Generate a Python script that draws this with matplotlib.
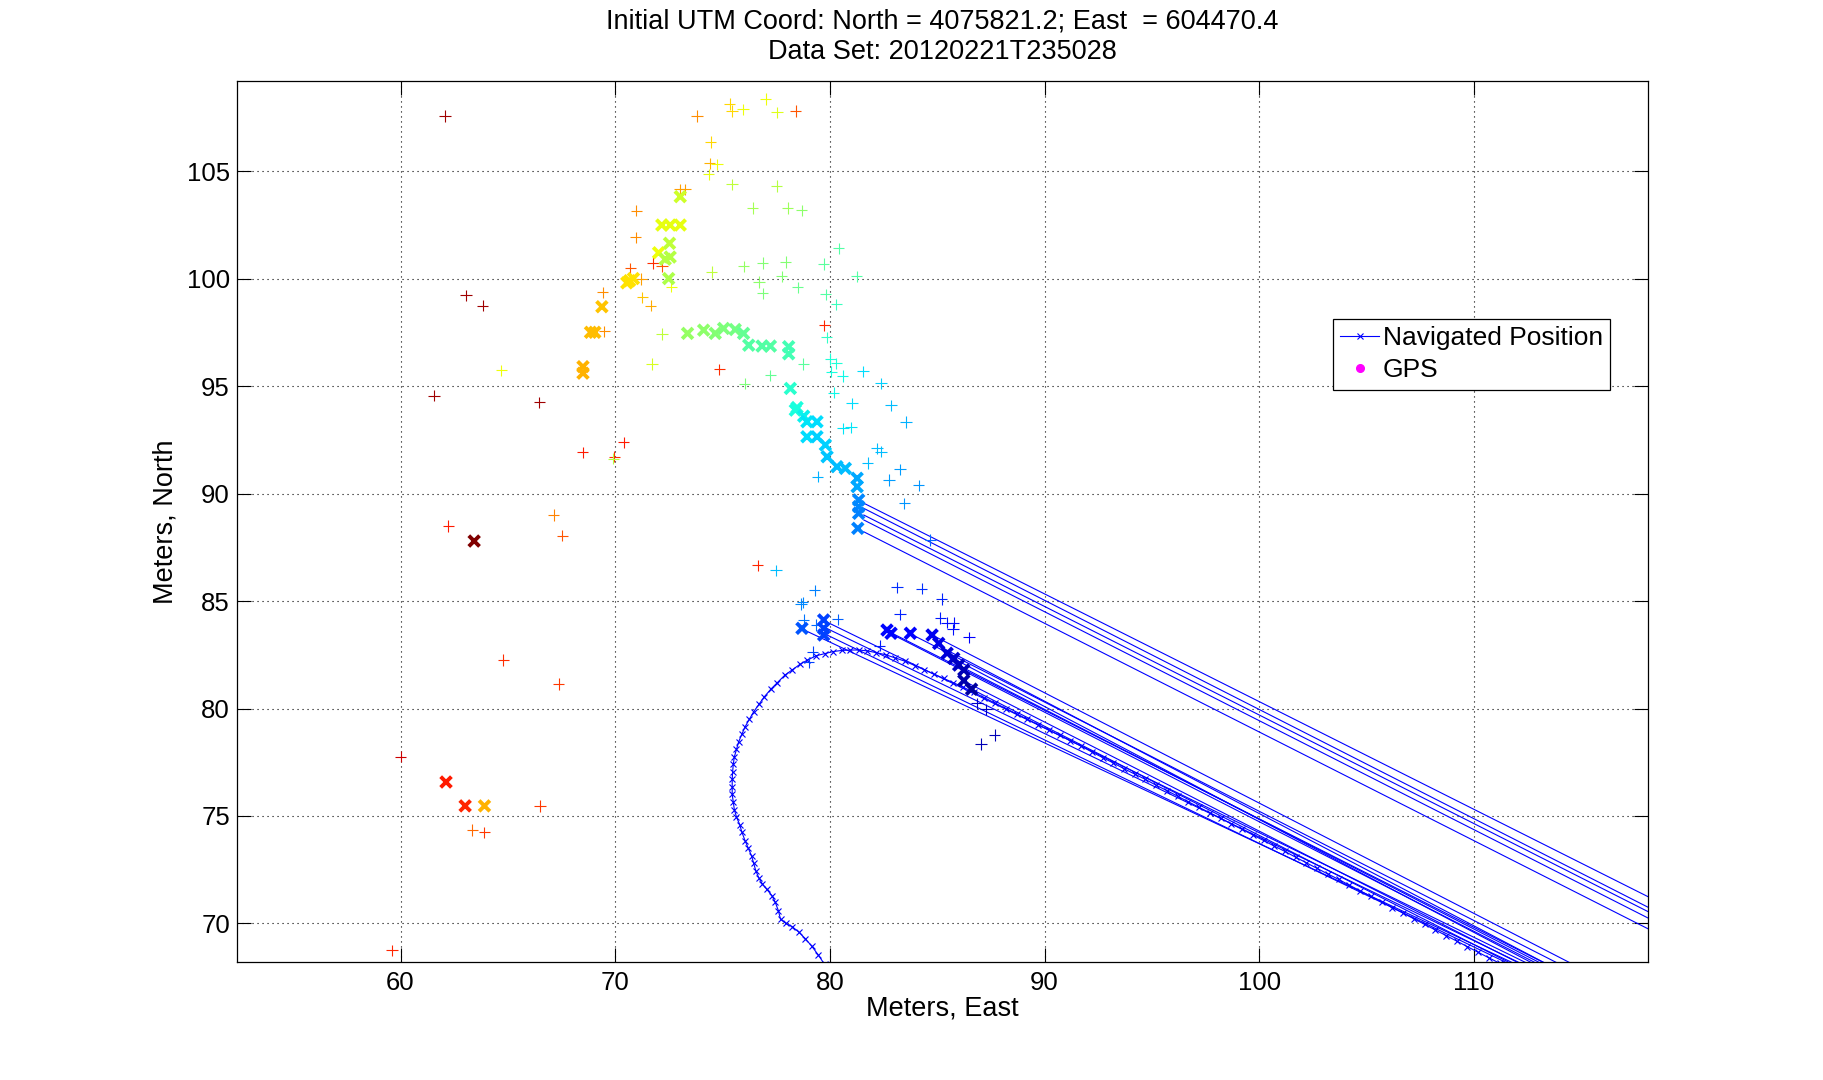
import numpy as np
import matplotlib.pyplot as plt

plt.rcParams['font.family'] = ['Liberation Sans', 'DejaVu Sans']

# GPS positions (+), metres east / north of the initial UTM coordinate, colour = time fraction
gps_e = [62.08, 63.06, 63.83, 61.56, 66.47, 64.70, 68.48, 70.39, 69.96, 69.92,
         74.85, 62.23, 67.13, 67.54, 64.79, 67.36, 60.01, 66.50, 63.35, 63.91,
         59.60, 73.81, 75.33, 75.44, 75.95, 77.01, 77.54, 78.41, 74.44, 74.40,
         74.74, 74.35, 75.44, 77.52, 73.00, 73.26, 70.98, 70.95, 76.40, 78.03,
         78.69, 80.41, 81.25, 70.71, 71.76, 72.19, 71.21, 71.27, 71.65, 69.42,
         69.49, 72.61, 74.49, 75.98, 76.87, 77.94, 79.71, 76.70, 77.75, 76.87,
         78.50, 79.80, 80.30, 79.74, 79.85, 72.19, 71.71, 76.03, 77.23, 78.76,
         80.02, 80.30, 80.07, 80.60, 81.55, 82.38, 80.18, 81.02, 82.85, 83.55,
         80.61, 80.99, 82.20, 82.38, 81.76, 82.76, 83.27, 84.14, 79.43, 83.47,
         84.68, 76.63, 77.49, 79.29, 78.73, 78.66, 78.78, 79.37, 80.36, 83.12,
         84.28, 85.20, 83.26, 85.15, 85.46, 85.77, 85.73, 86.47, 82.32, 79.20,
         79.01, 86.86, 87.28, 87.05, 87.68]
gps_n = [107.57, 99.22, 98.74, 94.55, 94.24, 95.73, 91.91, 92.38, 91.71, 91.62,
         95.78, 88.49, 89.00, 88.04, 82.26, 81.14, 77.76, 75.47, 74.35, 74.24,
         68.75, 107.56, 108.12, 107.79, 107.87, 108.35, 107.73, 107.79, 106.35, 105.36,
         105.31, 104.85, 104.38, 104.30, 104.15, 104.15, 103.16, 101.91, 103.28, 103.28,
         103.17, 101.40, 100.10, 100.47, 100.72, 100.58, 99.98, 99.13, 98.74, 99.36,
         97.54, 99.62, 100.30, 100.57, 100.72, 100.77, 100.67, 99.85, 100.10, 99.31,
         99.59, 99.26, 98.80, 97.82, 97.26, 97.42, 96.02, 95.11, 95.50, 96.02,
         96.26, 96.05, 95.67, 95.47, 95.68, 95.12, 94.69, 94.19, 94.10, 93.33,
         93.03, 93.08, 92.10, 91.95, 91.42, 90.63, 91.12, 90.38, 90.78, 89.54,
         87.84, 86.66, 86.43, 85.50, 84.94, 84.86, 84.12, 83.88, 84.15, 85.64,
         85.57, 85.09, 84.38, 84.22, 83.99, 83.99, 83.68, 83.31, 82.92, 82.64,
         82.15, 80.24, 79.96, 78.35, 78.77]
gps_t = [0.97, 0.97, 0.97, 0.97, 0.97, 0.64, 0.88, 0.88, 0.86, 0.57,
         0.86, 0.88, 0.77, 0.82, 0.86, 0.85, 0.93, 0.85, 0.80, 0.85,
         0.87, 0.76, 0.68, 0.68, 0.64, 0.64, 0.62, 0.82, 0.68, 0.72,
         0.64, 0.63, 0.58, 0.57, 0.74, 0.74, 0.76, 0.76, 0.55, 0.54,
         0.52, 0.45, 0.45, 0.82, 0.86, 0.82, 0.74, 0.70, 0.73, 0.76,
         0.76, 0.64, 0.58, 0.53, 0.51, 0.51, 0.46, 0.52, 0.51, 0.50,
         0.48, 0.45, 0.42, 0.87, 0.41, 0.58, 0.61, 0.50, 0.47, 0.46,
         0.39, 0.39, 0.38, 0.37, 0.34, 0.33, 0.37, 0.34, 0.31, 0.30,
         0.35, 0.35, 0.31, 0.31, 0.31, 0.28, 0.28, 0.27, 0.30, 0.27,
         0.23, 0.87, 0.31, 0.25, 0.26, 0.26, 0.24, 0.23, 0.22, 0.17,
         0.17, 0.16, 0.16, 0.15, 0.14, 0.14, 0.14, 0.12, 0.15, 0.19,
         0.19, 0.06, 0.06, 0.05, 0.05]

# accepted fixes (thick x)
fix_e = [63.43, 62.12, 63.01, 63.91, 68.50, 68.50, 68.85, 69.05, 69.38, 70.54,
         70.67, 70.85, 72.02, 72.17, 72.56, 73.03, 73.03, 72.53, 72.33, 72.56,
         72.49, 73.37, 74.12, 74.66, 75.05, 75.59, 75.98, 76.22, 76.84, 77.23,
         78.08, 78.08, 78.16, 78.47, 78.39, 78.78, 78.93, 79.40, 78.93, 79.40,
         79.79, 79.87, 80.33, 80.72, 81.27, 81.27, 81.34, 81.34, 81.34, 81.30,
         78.70, 79.71, 79.71, 79.71, 82.66, 82.85, 83.75, 84.76, 85.07, 85.46,
         85.77, 86.00, 86.24, 86.24, 86.60]
fix_n = [87.79, 76.58, 75.47, 75.47, 95.60, 95.90, 97.50, 97.50, 98.69, 99.80,
         99.90, 100.00, 101.20, 102.49, 102.49, 102.49, 103.81, 101.64, 100.90, 101.00,
         100.00, 97.45, 97.60, 97.45, 97.68, 97.63, 97.45, 96.90, 96.86, 96.86,
         96.83, 96.50, 94.89, 94.00, 93.88, 93.60, 93.34, 93.34, 92.64, 92.64,
         92.26, 91.71, 91.25, 91.17, 90.71, 90.32, 89.70, 89.39, 89.08, 88.38,
         83.73, 84.12, 83.73, 83.42, 83.65, 83.50, 83.50, 83.42, 83.03, 82.57,
         82.33, 82.02, 81.79, 81.30, 80.90]
fix_t = [1.00, 0.88, 0.87, 0.72, 0.72, 0.72, 0.71, 0.71, 0.70, 0.67,
         0.67, 0.67, 0.64, 0.63, 0.63, 0.63, 0.60, 0.58, 0.57, 0.57,
         0.56, 0.53, 0.52, 0.51, 0.50, 0.49, 0.47, 0.45, 0.45, 0.45,
         0.43, 0.43, 0.40, 0.38, 0.38, 0.36, 0.35, 0.34, 0.34, 0.33,
         0.33, 0.32, 0.31, 0.31, 0.29, 0.29, 0.26, 0.26, 0.25, 0.25,
         0.21, 0.19, 0.19, 0.19, 0.13, 0.13, 0.11, 0.10, 0.09, 0.08,
         0.07, 0.06, 0.05, 0.04, 0.03]

# navigated track
nav_e = [79.75, 79.45, 79.15, 78.85, 78.55, 78.25, 77.95, 77.70, 77.60, 77.45,
         77.30, 77.05, 76.85, 76.70, 76.55, 76.45, 76.35, 76.20, 76.05, 75.90,
         75.80, 75.65, 75.55, 75.50, 75.45, 75.45, 75.45, 75.47, 75.50, 75.55,
         75.65, 75.75, 75.90, 76.05, 76.25, 76.45, 76.70, 76.95, 77.25, 77.55,
         77.90, 78.25, 78.60, 78.95, 79.35, 79.75, 80.15, 80.55, 80.95, 81.35,
         81.75, 82.15, 82.60, 83.05, 83.50, 83.95, 84.40, 84.85, 85.30, 85.75,
         86.20, 86.70, 87.20, 87.70, 88.20, 88.70, 89.20, 89.70, 90.20, 90.70,
         91.20, 91.70, 92.20, 92.70, 93.20, 93.70, 94.20, 94.70, 95.20, 95.70,
         96.20, 96.70, 97.20, 97.70, 98.20, 98.70, 99.20, 99.70, 100.20, 100.70,
         101.20, 101.70, 102.20, 102.70, 103.20, 103.70, 104.20, 104.70, 105.20, 105.70,
         106.20, 106.70, 107.20, 107.70, 108.20, 108.70, 109.20, 109.70, 110.20, 110.70,
         111.20, 111.70]
nav_n = [68.10, 68.55, 68.95, 69.30, 69.60, 69.85, 70.00, 70.20, 70.60, 71.00,
         71.30, 71.60, 71.85, 72.10, 72.45, 72.80, 73.15, 73.50, 73.85, 74.25,
         74.60, 74.95, 75.30, 75.65, 76.00, 76.35, 76.70, 77.05, 77.40, 77.75,
         78.10, 78.45, 78.80, 79.15, 79.50, 79.85, 80.20, 80.55, 80.90, 81.20,
         81.55, 81.80, 82.05, 82.25, 82.45, 82.55, 82.65, 82.70, 82.72, 82.72,
         82.68, 82.60, 82.50, 82.35, 82.20, 82.00, 81.80, 81.60, 81.40, 81.20,
         81.00, 80.75, 80.50, 80.25, 80.00, 79.75, 79.50, 79.25, 79.00, 78.75,
         78.50, 78.25, 77.98, 77.72, 77.47, 77.20, 76.95, 76.70, 76.43, 76.18,
         75.92, 75.66, 75.40, 75.15, 74.90, 74.63, 74.38, 74.12, 73.86, 73.60,
         73.35, 73.08, 72.82, 72.56, 72.30, 72.05, 71.78, 71.52, 71.26, 71.00,
         70.74, 70.48, 70.22, 69.96, 69.70, 69.44, 69.18, 68.92, 68.66, 68.40,
         68.15, 67.90]

# jumps of the navigated track back to a fix and out of view
jump_e0 = [81.58, 81.58, 81.58, 81.58, 81.58,
           78.70, 79.70, 79.70, 79.70, 82.70, 82.80, 83.70, 84.80, 85.10, 85.80, 86.20, 86.20, 86.60]
jump_n0 = [89.55, 89.31, 89.00, 88.77, 88.22,
           83.70, 84.10, 83.80, 83.50, 83.60, 83.50, 83.50, 83.40, 82.90, 82.30, 81.90, 81.30, 80.90]
jump_e1 = [119.5, 119.5, 119.5, 119.5, 119.5,
           112.6, 113.2, 112.9, 112.3, 114.0, 113.6, 114.6, 115.2, 114.0, 113.4, 113.8, 112.8, 112.4]
jump_n1 = [70.55, 70.05, 69.85, 69.55, 69.05,
           67.80, 67.80, 67.80, 67.80, 67.80, 67.80, 67.80, 67.80, 67.80, 67.80, 67.80, 67.80, 67.80]

fig = plt.figure(figsize=(18.24, 10.8), dpi=100)
ax = fig.add_axes([0.1299, 0.1095, 0.7735, 0.8155])

ax.plot(nav_e, nav_n, '-x', color='b', lw=0.8, ms=4.5, mew=0.8,
        label='Navigated Position', zorder=2)
for i in range(len(jump_e0)):
    ax.plot([jump_e0[i], jump_e1[i]], [jump_n0[i], jump_n1[i]], '-',
            color='b', lw=0.8, zorder=2)
ax.plot([], [], '.', color='magenta', ms=11, label='GPS')

ax.scatter(gps_e, gps_n, c=gps_t, cmap='jet', vmin=0, vmax=1,
           marker='+', s=68, linewidths=0.8, zorder=3)
ax.scatter(fix_e, fix_n, c=fix_t, cmap='jet', vmin=0, vmax=1,
           marker='x', s=60, linewidths=2.8, zorder=4)

ax.set_xlim(52.38, 118.1)
ax.set_ylim(68.22, 109.19)
ax.set_xticks(np.arange(60, 111, 10))
ax.set_yticks(np.arange(70, 106, 5))
ax.grid(True, color='black', linestyle=(0, (1, 3.5)), linewidth=0.8)
ax.tick_params(direction='in', length=10, width=0.8, top=True, right=True,
               labelsize=18.5)
ax.tick_params(axis='x', pad=7)
ax.tick_params(axis='y', pad=5)
for s in ax.spines.values():
    s.set_linewidth(0.9)

ax.set_xlabel('Meters, East', fontsize=19.5, labelpad=0)
ax.set_ylabel('Meters, North', fontsize=19.5, labelpad=6)
ax.set_title('Initial UTM Coord: North = 4075821.2; East  = 604470.4\nData Set: 20120221T235028',
             fontsize=19.5, linespacing=1.2, pad=16)

leg = ax.legend(loc='upper left', bbox_to_anchor=(1333 / 1824, 1 - 319 / 1080),
                bbox_transform=fig.transFigure, fontsize=19, fancybox=False,
                edgecolor='black', framealpha=1, borderaxespad=0, borderpad=0.28,
                handlelength=1.45, handletextpad=0.15, labelspacing=0.3)
leg.get_frame().set_linewidth(0.9)

fig.savefig('out.png', dpi=100)
